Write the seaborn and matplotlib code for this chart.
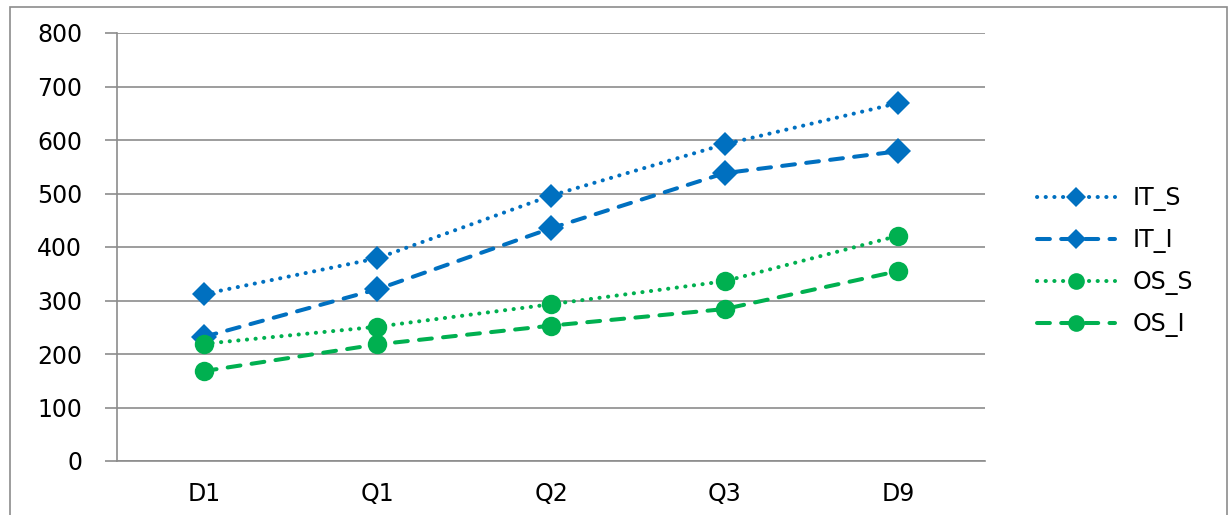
import matplotlib
matplotlib.use("Agg")
import matplotlib.pyplot as plt
from matplotlib.patches import Rectangle
from matplotlib.lines import Line2D
import seaborn as sns
import pandas as pd

categories = ["D1", "Q1", "Q2", "Q3", "D9"]
it_s = [312, 379, 496, 592, 669]
it_i = [232, 321, 435, 538, 579]
os_s = [219, 251, 293, 336, 421]
os_i = [168, 218, 253, 284, 355]
series_names = ["IT_S", "IT_I", "OS_S", "OS_I"]
y_ticks = [0, 100, 200, 300, 400, 500, 600, 700, 800]

frames = []
for name, vals in zip(series_names, [it_s, it_i, os_s, os_i]):
    frames.append(pd.DataFrame({"cat": categories, "value": vals, "series": name}))
df = pd.concat(frames, ignore_index=True)

sns.set_theme(style="white")
plt.rcParams["font.family"] = ["DejaVu Sans"]
plt.rcParams["lines.dash_capstyle"] = "round"

BLUE = "#0070C0"
GREEN = "#00B050"
GRID = "#8C8C8C"
FS = 17
LW = 2.9

fig = plt.figure(figsize=(12.3, 5.15), dpi=100)
ax = fig.add_axes([117 / 1230, (515 - 461) / 515, (985 - 117) / 1230, (461 - 33) / 515])

palette = {"IT_S": BLUE, "IT_I": BLUE, "OS_S": GREEN, "OS_I": GREEN}
markers = {"IT_S": "D", "IT_I": "D", "OS_S": "o", "OS_I": "o"}
dot = (0.05, 2.1)
dash = (3.2, 2.8)
dashes = {"IT_S": dot, "IT_I": dash, "OS_S": dot, "OS_I": dash}
sizes = {"IT_S": 12, "IT_I": 13, "OS_S": 14, "OS_I": 14}

sns.lineplot(data=df, x="cat", y="value", hue="series", style="series",
             palette=palette, markers=markers, dashes=dashes,
             linewidth=LW, markeredgewidth=0, sort=False, legend=False, ax=ax)

for line, name in zip(ax.get_lines()[:4], series_names):
    line.set_markersize(sizes[name])

ax.set_xlim(-0.5, 4.5)
ax.set_ylim(0, 800)
ax.set_yticks(y_ticks)
ax.set_yticklabels([str(v) for v in y_ticks], fontsize=FS, color="black")
ax.set_xticks(range(len(categories)))
ax.set_xticklabels(categories, fontsize=FS, color="black")
ax.set_xticks([i - 0.5 for i in range(len(categories) + 1)], minor=True)
ax.tick_params(axis="x", which="major", length=0, pad=15)
ax.tick_params(axis="x", which="minor", length=6, width=1.2, color=GRID, direction="out")
ax.tick_params(axis="y", which="major", length=9, width=1.2, color=GRID, direction="out",
               pad=16, left=True)
ax.set_xlabel("")
ax.set_ylabel("")
ax.grid(axis="y", color=GRID, linewidth=1.2)
ax.set_axisbelow(True)
for side in ["top", "right"]:
    ax.spines[side].set_visible(False)
for side in ["left", "bottom"]:
    ax.spines[side].set_color(GRID)
    ax.spines[side].set_linewidth(1.2)

leg_sizes = {"IT_S": 10, "IT_I": 10.5, "OS_S": 12, "OS_I": 12}
handles = [Line2D([], [], color=palette[n], marker=markers[n], markersize=leg_sizes[n],
                  markeredgewidth=0, linewidth=LW, dashes=dashes[n],
                  dash_capstyle="round")
           for n in series_names]
ax.legend(handles, series_names, loc="center left", bbox_to_anchor=(1.035, 0.465),
          frameon=False, fontsize=FS, handlelength=3.3, labelspacing=0.72,
          handletextpad=0.75, labelcolor="black")

fig.patches.append(Rectangle((10 / 1230, -0.05), 1217 / 1230, 1.05 - 7 / 515,
                             transform=fig.transFigure, fill=False,
                             edgecolor="#8C8C8C", linewidth=1.2))

fig.savefig("out.png", dpi=100)
